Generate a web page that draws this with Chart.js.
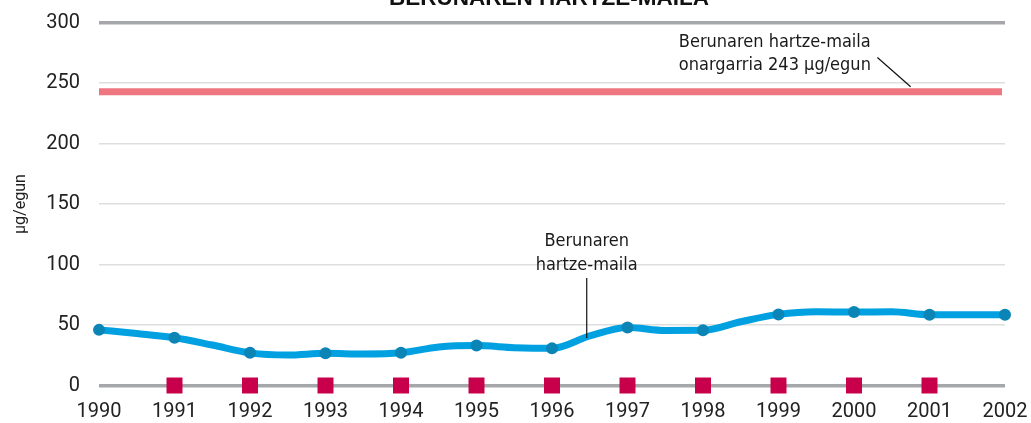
<!DOCTYPE html>
<html><head><meta charset="utf-8">
<script src="https://cdn.jsdelivr.net/npm/chart.js@4/dist/chart.umd.min.js"></script>
<style>html,body{margin:0;padding:0;background:#fff}#wrap{width:1031px;height:423px;position:relative}</style>
</head><body><div id="wrap"><canvas id="c"></canvas></div>
<script>
const years = [1990,1991,1992,1993,1994,1995,1996,1997,1998,1999,2000,2001,2002];
const leadValues = [46,39.5,27,26.6,27,33,30.7,48,45.6,58.8,60.7,58.5,58.5];
const midYears = [1990.5,1991.5,1992.5,1993.5,1994.5,1995.5,1996.5,1997.5,1998.5,1999.5,2000.5,2001.5];
const midValues = [43,33.5,25.2,26,31.8,31.3,41,45.5,52.7,61,61,58.5];
const limitValue = 243;
const markerYears = [1991,1992,1993,1994,1995,1996,1997,1998,1999,2000,2001];
const markerValues = [0,0,0,0,0,0,0,0,0,0,0];
const yTicks = [0,50,100,150,200,250,300];
const chartTitle = 'BERUNAREN HARTZE-MAILA';
const yTitle = 'μg/egun';
const limitNote = ['Berunaren hartze-maila','onargarria 243 μg/egun'];
const seriesNote = ['Berunaren','hartze-maila'];

const linePts = years.map((x,i)=>({x, y: leadValues[i]}))
  .concat(midYears.map((x,i)=>({x, y: midValues[i]})))
  .sort((a,b)=>a.x-b.x);
const dotPts = years.map((x,i)=>({x, y: leadValues[i]}));
const markerPts = markerYears.map((x,i)=>({x, y: markerValues[i]}));
const limitPts = [{x: years[0], y: limitValue}, {x: 2001.96, y: limitValue}];

const annot = {
  id: 'annot',
  afterDraw(chart) {
    const ctx = chart.ctx, xs = chart.scales.x, ys = chart.scales.y;
    ctx.save();
    ctx.fillStyle = '#111';
    ctx.font = 'bold 22.5px "Liberation Sans", Arial, sans-serif';
    ctx.textAlign = 'center';
    ctx.textBaseline = 'alphabetic';
    ctx.fillText(chartTitle, 549, 5);
    ctx.font = '18px "DejaVu Sans Condensed", "Liberation Sans Narrow", sans-serif';
    ctx.fillStyle = '#1a1a1a';
    ctx.textAlign = 'left';
    ctx.textBaseline = 'middle';
    ctx.fillText(limitNote[0], xs.getPixelForValue(1997.68), ys.getPixelForValue(283.9));
    ctx.fillText(limitNote[1], xs.getPixelForValue(1997.68), ys.getPixelForValue(264.9));
    ctx.strokeStyle = '#111';
    ctx.lineWidth = 1.2;
    ctx.beginPath();
    ctx.moveTo(xs.getPixelForValue(2000.31), ys.getPixelForValue(271.2));
    ctx.lineTo(xs.getPixelForValue(2000.75), ys.getPixelForValue(247));
    ctx.stroke();
    ctx.textAlign = 'center';
    ctx.fillText(seriesNote[0], xs.getPixelForValue(1996.46), ys.getPixelForValue(119.4));
    ctx.fillText(seriesNote[1], xs.getPixelForValue(1996.46), ys.getPixelForValue(99.6));
    ctx.beginPath();
    ctx.moveTo(xs.getPixelForValue(1996.46), ys.getPixelForValue(88.8));
    ctx.lineTo(xs.getPixelForValue(1996.46), ys.getPixelForValue(39.3));
    ctx.stroke();
    ctx.restore();
  }
};

new Chart(document.getElementById('c'), {
  type: 'line',
  data: {
    datasets: [
      { data: dotPts, showLine: false, pointRadius: 6, pointHoverRadius: 6,
        pointBackgroundColor: '#0a85b5', pointBorderWidth: 0, order: 0, clip: false },
      { data: linePts, borderColor: '#00a0e1', borderWidth: 7, pointRadius: 0,
        cubicInterpolationMode: 'monotone', order: 1, clip: false },
      { data: markerPts, showLine: false, pointStyle: 'rect', pointRadius: 11.3,
        pointBackgroundColor: '#c8004b', pointBorderWidth: 0, order: 2, clip: false },
      { data: limitPts, borderColor: '#ee7680', borderWidth: 7, pointRadius: 0,
        borderCapStyle: 'butt', order: 3 }
    ]
  },
  options: {
    responsive: true, maintainAspectRatio: false, animation: false,
    layout: { padding: { top: 22.7, right: 26, left: 0, bottom: 0 } },
    plugins: { legend: { display: false }, tooltip: { enabled: false } },
    scales: {
      x: {
        type: 'linear', min: 1990, max: 2002,
        afterBuildTicks: s => { s.ticks = years.map(v => ({value: v})); },
        ticks: { callback: v => String(v), font: { family: 'Roboto', size: 20 }, color: '#222', padding: 14, maxRotation: 0, autoSkip: false },
        grid: { display: false, drawTicks: false },
        border: { display: false },
        afterFit: s => { s.height = 37.5; s.paddingLeft = 0; s.paddingRight = 0; }
      },
      y: {
        min: 0, max: 300,
        afterBuildTicks: s => { s.ticks = yTicks.map(v => ({value: v})); },
        ticks: { font: { family: 'Roboto', size: 20 }, color: '#222', padding: 19 },
        grid: {
          drawTicks: false,
          color: c => (c.tick.value === 0 || c.tick.value === 300) ? '#a5a7aa' : '#dedede',
          lineWidth: c => (c.tick.value === 0 || c.tick.value === 300) ? 3.5 : 1.5
        },
        border: { display: false },
        title: { display: true, text: yTitle, font: { family: 'Roboto', size: 16 }, color: '#222', padding: { top: 11, bottom: 0 } },
        afterFit: s => { s.width = 99; s.paddingTop = 0; s.paddingBottom = 0; }
      }
    }
  },
  plugins: [annot]
});
</script>
</body></html>
